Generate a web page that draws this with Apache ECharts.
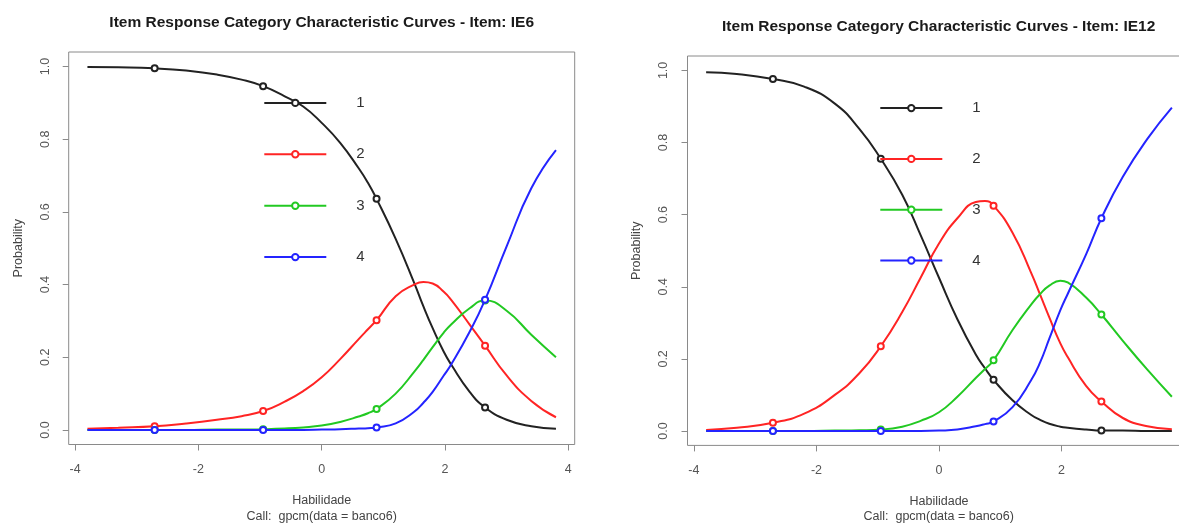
<!DOCTYPE html>
<html>
<head>
<meta charset="utf-8">
<script src="https://cdn.jsdelivr.net/npm/echarts@6/dist/echarts.min.js"></script>
<style>
html,body{margin:0;padding:0;background:#fff;}
#chart{width:1179px;height:525px;}
</style>
</head>
<body>
<div id="chart"></div>
<script>
// ---- data ----
const thetaValues = [-3.8,-3.3,-2.71,-2.2,-1.7,-1.3,-0.95,-0.6,-0.3,0,0.3,0.6,0.75,0.89,1.2,1.5,1.65,1.8,1.98,2.1,2.4,2.65,3.0,3.4,3.8];
const markerTheta = [-2.71,-0.95,0.89,2.65];
const categoryNames = ['1','2','3','4'];

// Item IE6
const ie6Cat1 = [0.999,0.998,0.995,0.989,0.978,0.964,0.946,0.918,0.89,0.845,0.79,0.72,0.68,0.636,0.526,0.405,0.34,0.28,0.215,0.18,0.105,0.062,0.028,0.01,0.003];
const ie6Cat2 = [0.003,0.006,0.01,0.018,0.028,0.038,0.052,0.078,0.107,0.145,0.195,0.25,0.277,0.302,0.368,0.4,0.407,0.403,0.38,0.358,0.29,0.232,0.15,0.08,0.035];
const ie6Cat3 = [0,0,0,0,0.001,0.001,0.002,0.004,0.007,0.012,0.022,0.037,0.046,0.058,0.1,0.16,0.193,0.228,0.268,0.29,0.335,0.356,0.328,0.262,0.20];
const ie6Cat4 = [0,0,0,0,0,0,0,0,0,0.001,0.002,0.004,0.005,0.007,0.018,0.05,0.075,0.105,0.15,0.18,0.27,0.358,0.505,0.665,0.77];

// Item IE12
const ie12Cat1 = [0.995,0.99,0.976,0.955,0.908,0.838,0.755,0.655,0.543,0.425,0.31,0.212,0.174,0.142,0.085,0.045,0.031,0.02,0.012,0.009,0.004,0.001,0.001,0,0];
const ie12Cat2 = [0.003,0.009,0.023,0.048,0.1,0.16,0.235,0.33,0.425,0.52,0.59,0.635,0.638,0.625,0.55,0.44,0.378,0.315,0.243,0.205,0.125,0.082,0.036,0.013,0.005];
const ie12Cat3 = [0,0,0,0,0.001,0.002,0.004,0.012,0.028,0.052,0.095,0.147,0.172,0.196,0.28,0.35,0.38,0.403,0.417,0.412,0.37,0.323,0.25,0.17,0.095];
const ie12Cat4 = [0,0,0,0,0,0,0,0,0,0.001,0.004,0.013,0.019,0.026,0.066,0.14,0.19,0.256,0.335,0.38,0.49,0.59,0.705,0.81,0.897];

const xTickValues = [-4,-2,0,2,4];
const yTickValues = [0,0.2,0.4,0.6,0.8,1.0];

const titles = ['Item Response Category Characteristic Curves - Item: IE6',
                'Item Response Category Characteristic Curves - Item: IE12'];
const xAxisTitle = 'Habilidade';
const yAxisTitle = 'Probability';
const callText = 'Call:  gpcm(data = banco6)';

// ---- styling ----
const colors = ['#222222','#ff2424','#22c922','#2424ff'];
const FONT = 'Liberation Sans, Arial, sans-serif';

function buildData(vals){
  return thetaValues.map((x,i)=>({
    value:[x, vals[i]],
    symbol: markerTheta.indexOf(x) >= 0 ? 'emptyCircle' : 'none'
  }));
}

function makeSeries(panel, arrs){
  return arrs.map((vals, k)=>({
    name: categoryNames[k],
    type: 'line',
    xAxisIndex: panel, yAxisIndex: panel,
    data: buildData(vals),
    smooth: 0.5,
    showAllSymbol: true,
    symbol: 'emptyCircle',
    symbolSize: 6,
    lineStyle: {color: colors[k], width: 2},
    itemStyle: {color: colors[k], borderColor: colors[k], borderWidth: 2},
    emphasis: {disabled: true},
    z: 2 + k
  }));
}

function xAxisCfg(gridIndex){
  return {
    gridIndex, type:'value', min:-4.104, max:4.104,
    splitLine:{show:false},
    axisLine:{show:false, onZero:false},
    axisTick:{show:true, inside:false, length:6, lineStyle:{color:'#8a8a8a', width:1}, customValues: xTickValues},
    axisLabel:{show:true, margin:19, color:'#555', fontSize:12.5, fontFamily:FONT, customValues: xTickValues,
               formatter: v => String(v)},
    name: xAxisTitle, nameLocation:'middle', nameGap:50,
    nameTextStyle:{color:'#444', fontSize:12.5, fontFamily:FONT}
  };
}
function yAxisCfg(gridIndex){
  return {
    gridIndex, type:'value', min:-0.04, max:1.04,
    splitLine:{show:false},
    axisLine:{show:false, onZero:false},
    axisTick:{show:true, inside:false, length:6, lineStyle:{color:'#8a8a8a', width:1}, customValues: yTickValues},
    axisLabel:{show:true, rotate:90, margin:17, color:'#555', fontSize:12.5, fontFamily:FONT, customValues: yTickValues,
               formatter: v => v.toFixed(1)},
    name: yAxisTitle, nameLocation:'middle', nameRotate:90, nameGap:44,
    nameTextStyle:{color:'#444', fontSize:12.5, fontFamily:FONT}
  };
}

const chart = echarts.init(document.getElementById('chart'), null, {renderer:'canvas'});
chart.setOption({
  animation:false,
  backgroundColor:'#ffffff',
  title:[
    {text:titles[0], left:321.7, top:15, textAlign:'center', padding:0,
     textStyle:{fontSize:15.5, fontWeight:'bold', color:'#1a1a1a', fontFamily:FONT}},
    {text:titles[1], left:938.7, top:19, textAlign:'center', padding:0,
     textStyle:{fontSize:15.5, fontWeight:'bold', color:'#1a1a1a', fontFamily:FONT}},
    {text:callText, left:321.7, top:510, textAlign:'center', padding:0,
     textStyle:{fontSize:12.5, fontWeight:'normal', color:'#444', fontFamily:FONT}},
    {text:callText, left:938.7, top:510, textAlign:'center', padding:0,
     textStyle:{fontSize:12.5, fontWeight:'normal', color:'#444', fontFamily:FONT}}
  ],
  grid:[
    {left:68.7, top:52, width:506, height:392.5, show:true, borderColor:'#8a8a8a', borderWidth:1,
     backgroundColor:'transparent', containLabel:false, outerBoundsMode:'none'},
    {left:687.5, top:56, width:503, height:389.4, show:true, borderColor:'#8a8a8a', borderWidth:1,
     backgroundColor:'transparent', containLabel:false, outerBoundsMode:'none'}
  ],
  xAxis:[xAxisCfg(0), xAxisCfg(1)],
  yAxis:[yAxisCfg(0), yAxisCfg(1)],
  legend:[
    {data:categoryNames, orient:'vertical', left:263.3, top:95.4, padding:0,
     itemWidth:62, itemHeight:8, itemGap:36.4, selectedMode:false,
     textStyle:{fontSize:15, lineHeight:8, color:'#333', fontFamily:FONT, padding:[0,0,0,25]}},
    {data:categoryNames, orient:'vertical', left:879.3, top:100.6, padding:0,
     itemWidth:62, itemHeight:8, itemGap:35.8, selectedMode:false,
     textStyle:{fontSize:15, lineHeight:8, color:'#333', fontFamily:FONT, padding:[0,0,0,25]}}
  ],
  series: makeSeries(0,[ie6Cat1,ie6Cat2,ie6Cat3,ie6Cat4]).concat(
          makeSeries(1,[ie12Cat1,ie12Cat2,ie12Cat3,ie12Cat4]))
});
</script>
</body>
</html>
